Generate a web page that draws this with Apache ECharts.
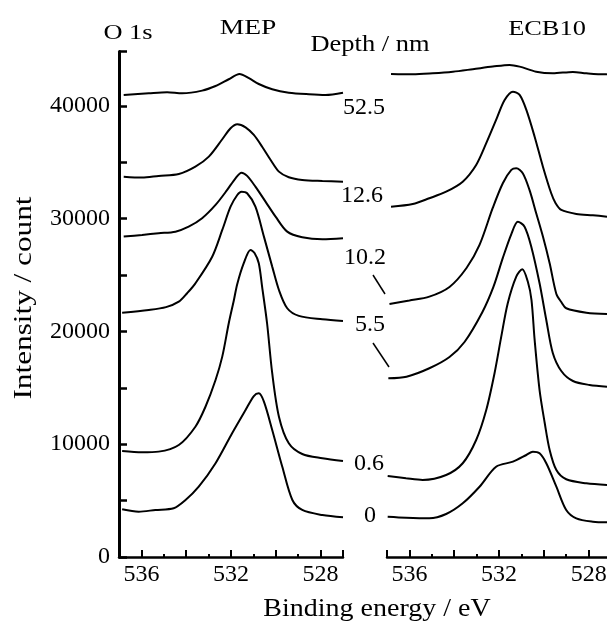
<!DOCTYPE html>
<html>
<head>
<meta charset="utf-8">
<title>O 1s depth profile</title>
<script src="https://cdn.jsdelivr.net/npm/echarts@6/dist/echarts.min.js"></script>
</head>
<body style="margin:0">
<div id="main" style="width:607px;height:624px;"></div>
<script type="text/javascript">

// depth labels (nm), top to bottom
var depths = ['52.5', '12.6', '10.2', '5.5', '0.6', '0'];

// tick values
var xLabelTicks = [528, 532, 536];
var xMajorTicks = [527, 528, 530, 532, 534, 536, 537];
var xMinorTicks = [529, 531, 533, 535];
var yTicks = [0, 5000, 10000, 15000, 20000, 25000, 30000, 35000, 40000, 44800];
var yLabelTicks = [0, 10000, 20000, 30000, 40000];

// MEP spectra, [binding energy / eV, intensity / count]
var mep525 = [[536.79,40960],[535.67,41110],[534.85,41200],[534.18,41110],[533.29,41340],[532.69,41750],[532.10,42350],[531.62,42820],[531.20,42440],[530.76,41930],[530.16,41460],[529.42,41160],[528.52,41020],[527.78,40960],[527.0,41160]];
var mep126 = [[536.79,33710],[535.97,33630],[535.23,33780],[534.33,33950],[533.59,34600],[532.99,35490],[532.39,37030],[532.02,38000],[531.72,38360],[531.35,38090],[530.98,37410],[530.61,36370],[530.23,35190],[529.86,34160],[529.42,33660],[528.82,33420],[527.92,33330],[527.0,33270]];
var mep102 = [[536.79,28400],[535.97,28550],[535.23,28700],[534.48,28840],[533.89,29280],[533.29,30030],[532.69,31210],[532.17,32540],[531.80,33570],[531.53,34070],[531.28,33780],[530.91,32830],[530.46,31500],[530.01,30170],[529.49,28840],[528.82,28340],[527.92,28160],[527.0,28250]];
var mep55 = [[536.86,21660],[535.67,21900],[534.90,22150],[534.33,22630],[533.96,23380],[533.59,24260],[532.84,26620],[532.39,28990],[532.02,31050],[531.72,32090],[531.53,32380],[531.28,32240],[530.91,31050],[530.53,28400],[530.16,25740],[529.86,23670],[529.49,22050],[528.97,21370],[527.92,21070],[527.0,20920]];
var mep06 = [[536.86,9400],[535.97,9280],[535.23,9340],[534.33,9930],[533.59,11550],[533.14,13320],[532.69,15690],[532.39,17760],[532.10,20720],[531.87,22780],[531.72,24200],[531.43,26040],[531.13,27220],[530.95,26950],[530.76,26040],[530.61,23940],[530.39,20720],[530.16,16290],[529.86,12440],[529.42,10080],[528.82,9130],[527.92,8750],[527.0,8510]];
var mep0 = [[536.86,4230],[536.12,4020],[535.37,4170],[534.56,4320],[534.03,5050],[533.44,6230],[532.69,8310],[531.95,10970],[531.35,13030],[530.98,14270],[530.76,14510],[530.53,13770],[530.16,11260],[529.71,8000],[529.26,5050],[528.82,4170],[527.92,3720],[527.0,3520]];

// ECB10 spectra
var ecb525 = [[536.82,42820],[535.85,42790],[534.96,42880],[534.06,43020],[533.17,43240],[532.28,43470],[531.53,43620],[531.08,43470],[530.34,43020],[529.60,42880],[528.70,43000],[528.10,42880],[527.28,42790],[527.18,42800]];
var ecb126 = [[536.82,31050],[535.85,31290],[535.11,31800],[534.36,32380],[533.62,33270],[533.02,34750],[532.57,36680],[532.13,38740],[531.75,40510],[531.38,41250],[531.08,40960],[530.78,39630],[530.41,37260],[530.04,34600],[529.67,32240],[529.48,31380],[529.22,30760],[528.55,30410],[527.81,30290],[527.18,30170]];
var ecb102 = [[536.89,22430],[536.0,22740],[535.11,23080],[534.21,23940],[533.45,25620],[532.87,27660],[532.28,30940],[531.83,33130],[531.45,34310],[531.23,34460],[530.94,34020],[530.64,32540],[530.34,30470],[530.04,28400],[529.74,26040],[529.44,23320],[529.22,22600],[529.0,22050],[528.10,21660],[527.18,21540]];
var ecb55 = [[536.94,15840],[536.13,15980],[535.11,16730],[534.21,17730],[533.54,19060],[532.74,21720],[532.25,23940],[531.83,26510],[531.45,28630],[531.16,29720],[530.86,29280],[530.56,27510],[530.19,24260],[529.89,21010],[529.60,18090],[529.22,16490],[528.70,15600],[527.96,15250],[527.18,15100]];
var ecb06 = [[536.97,7180],[536.15,6980],[535.41,6830],[534.36,7270],[533.62,8310],[533.02,10370],[532.57,13030],[532.20,16290],[531.90,19530],[531.61,22490],[531.23,24850],[530.96,25510],[530.71,24380],[530.55,22780],[530.41,19240],[530.19,14800],[529.96,11880],[529.74,9490],[529.44,7710],[529.0,6890],[528.10,6530],[527.18,6380]];
var ecb0 = [[536.97,3570],[536.15,3480],[535.11,3430],[534.36,3810],[533.62,4760],[532.87,6230],[532.13,8000],[531.38,8450],[530.78,9040],[530.49,9340],[530.19,9190],[529.89,8310],[529.44,6230],[529.0,4170],[528.55,3430],[527.81,3130],[527.18,3080]];

var mepCurves = [mep525, mep126, mep102, mep55, mep06, mep0];
var ecbCurves = [ecb525, ecb126, ecb102, ecb55, ecb06, ecb0];

var FONT = '"Liberation Serif", "DejaVu Serif", serif';

var myChart = echarts.init(document.getElementById('main'));

// the right panel is cut by the picture edge a little before 527 eV
function mainX(grid, lo) {
    return {
        type: 'value', gridIndex: grid, min: lo, max: 537, inverse: true, position: 'bottom',
        axisLine: {show: true, onZero: false, lineStyle: {color: '#000', width: 2.5}},
        axisTick: {show: true, inside: true, length: 7, customValues: xMajorTicks.filter(function (v) { return v >= lo; }),
            lineStyle: {color: '#000', width: 2}},
        axisLabel: {customValues: xLabelTicks, color: '#000', fontFamily: FONT, fontSize: 24, margin: 6,
            formatter: function (v) { return String(v); }},
        splitLine: {show: false}
    };
}
function minorX(grid, lo) {
    return {
        type: 'value', gridIndex: grid, min: lo, max: 537, inverse: true, position: 'bottom',
        axisLine: {show: false},
        axisTick: {show: true, inside: true, length: 3, customValues: xMinorTicks, lineStyle: {color: '#000', width: 2}},
        axisLabel: {show: false},
        splitLine: {show: false}
    };
}

var series = [];
mepCurves.forEach(function (d) {
    series.push({type: 'line', xAxisIndex: 0, yAxisIndex: 0, data: d, showSymbol: false, smooth: 0.3,
        lineStyle: {color: '#000', width: 2}, silent: true});
});
ecbCurves.forEach(function (d) {
    series.push({type: 'line', xAxisIndex: 2, yAxisIndex: 1, data: d, showSymbol: false, smooth: 0.3,
        lineStyle: {color: '#000', width: 2}, silent: true});
});

function txt(s, x, y, size, sx, rot) {
    return {type: 'text', x: x, y: y, scaleX: sx || 1, rotation: rot || 0,
        style: {text: s, fill: '#000', font: size + 'px ' + FONT,
        textAlign: 'center', textVerticalAlign: 'middle'}};
}

// depth label positions in the gap between panels
var depthY = [108, 196, 258, 325, 464, 516];
var depthX = [364, 362, 365, 370, 369, 370];

var graphics = [
    txt('O 1s', 128, 33, 22, 1.2),
    txt('MEP', 248, 28, 22, 1.25),
    txt('Depth / nm', 370, 45, 23, 1.15),
    txt('ECB10', 547, 29, 22, 1.2),
    txt('Binding energy / eV', 377, 609, 25, 1.12),
    txt('Intensity / count', 24, 298, 25, 1.25, Math.PI / 2),
    {type: 'line', shape: {x1: 373, y1: 275, x2: 385, y2: 294}, style: {stroke: '#000', lineWidth: 1.5}},
    {type: 'line', shape: {x1: 373, y1: 343, x2: 389, y2: 367}, style: {stroke: '#000', lineWidth: 1.5}}
];
depths.forEach(function (d, i) {
    graphics.push(txt(d, depthX[i], depthY[i], 24));
});

option = {
    animation: false,
    backgroundColor: '#fff',
    grid: [
        {left: 119, width: 224, top: 51.6, bottom: 67, outerBoundsMode: 'none', containLabel: false},
        {left: 387, right: 0, top: 51.6, bottom: 67, outerBoundsMode: 'none', containLabel: false}
    ],
    xAxis: [mainX(0, 527), minorX(0, 527), mainX(1, 527.18), minorX(1, 527.18)],
    yAxis: [{
        type: 'value', gridIndex: 0, min: 0, max: 44800,
        axisLine: {show: true, lineStyle: {color: '#000', width: 3}},
        axisTick: {show: true, inside: true, length: 8, customValues: yTicks, lineStyle: {color: '#000', width: 2.5}},
        axisLabel: {customValues: yLabelTicks, color: '#000', fontFamily: FONT, fontSize: 24, margin: 9,
            formatter: function (v) { return String(v); }},
        splitLine: {show: false}
    }, {
        type: 'value', gridIndex: 1, min: 0, max: 44800, show: false,
        splitLine: {show: false}
    }],
    series: series,
    graphic: graphics
};

myChart.setOption(option);
</script>
</body>
</html>
